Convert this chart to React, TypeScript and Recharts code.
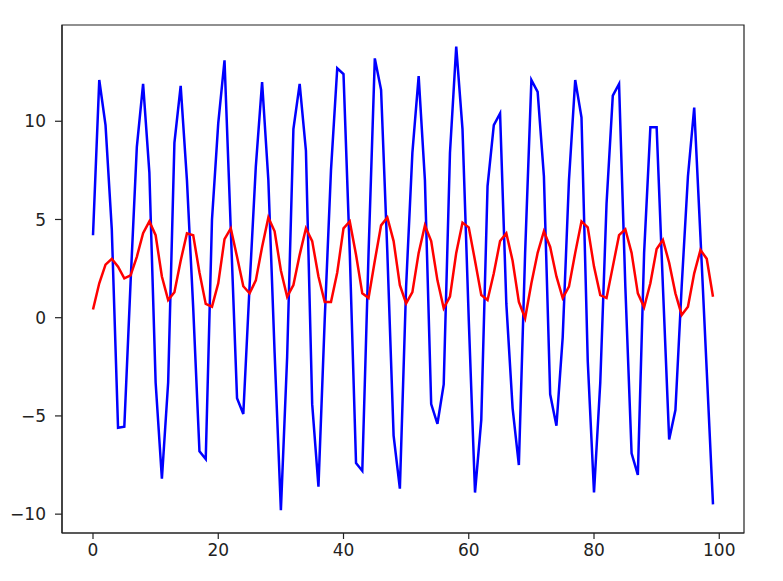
import { LineChart, Line, XAxis, YAxis, ReferenceArea } from 'recharts'

// values, one per step 0..99
const blueValues = [
  4.2, 12.1, 9.8, 4.5, -5.6, -5.55, 1.8, 8.7, 11.9, 7.4,
  -3.3, -8.2, -3.3, 8.9, 11.8, 7.0, 0.5, -6.8, -7.2, 5.0,
  9.9, 13.1, 4.5, -4.1, -4.9, 1.6, 7.7, 12.0, 7.0, -1.8,
  -9.8, -2.0, 9.6, 11.9, 8.5, -4.4, -8.6, -0.1, 7.5, 12.7,
  12.4, 3.3, -7.4, -7.8, 3.3, 13.2, 11.6, 3.3, -6.0, -8.7,
  1.6, 8.4, 12.3, 7.0, -4.4, -5.4, -3.4, 8.4, 13.8, 9.6,
  -0.1, -8.9, -5.2, 6.7, 9.8, 10.4, 0.7, -4.6, -7.5, 3.3,
  12.1, 11.5, 7.2, -3.9, -5.5, -1.0, 7.0, 12.1, 10.2, -2.2,
  -8.9, -3.3, 5.8, 11.3, 11.9, 1.6, -6.9, -8.0, 3.3, 9.7,
  9.7, 1.6, -6.2, -4.7, 1.6, 7.2, 10.7, 4.1, -2.7, -9.5,
]

const redValues = [
  0.42, 1.75, 2.7, 3.0, 2.6, 2.0, 2.15, 3.1, 4.3, 4.9,
  4.2, 2.1, 0.9, 1.3, 2.9, 4.3, 4.2, 2.3, 0.7, 0.56,
  1.75, 4.0, 4.55, 3.1, 1.6, 1.24, 1.9, 3.6, 5.1, 4.4,
  2.4, 1.07, 1.66, 3.2, 4.55, 3.9, 2.1, 0.8, 0.8, 2.3,
  4.55, 4.9, 3.2, 1.24, 1.0, 2.9, 4.7, 5.1, 3.9, 1.66,
  0.73, 1.3, 3.3, 4.7, 3.9, 1.9, 0.48, 1.07, 3.3, 4.84,
  4.6, 2.9, 1.15, 0.9, 2.26, 3.9, 4.3, 2.9, 0.8, -0.03,
  1.75, 3.3, 4.4, 3.6, 2.1, 1.0, 1.58, 3.3, 4.9, 4.6,
  2.6, 1.15, 1.0, 2.6, 4.2, 4.5, 3.3, 1.24, 0.53, 1.75,
  3.5, 3.96, 2.8, 1.24, 0.14, 0.56, 2.26, 3.45, 3.0, 1.07,
]

const xTicks = [0, 20, 40, 60, 80, 100]
const yTicks = [-10, -5, 0, 5, 10]

const X_DOMAIN: [number, number] = [-4.95, 103.95]
const Y_DOMAIN: [number, number] = [-10.96, 14.9]

const data = blueValues.map((b, i) => ({ x: i, blue: b, red: redValues[i] }))

const tickStyle = { fill: '#222', fontSize: 17, fontFamily: 'DejaVu Sans' }

export default function App() {
  return (
    <div style={{ position: 'absolute', left: 0, top: 0, background: '#fff' }}>
      <LineChart
        width={783}
        height={581}
        data={data}
        margin={{ top: 25, right: 39, left: 0, bottom: 0 }}
      >
        <XAxis
          dataKey="x"
          type="number"
          domain={X_DOMAIN}
          ticks={xTicks}
          allowDataOverflow
          height={48}
          tickSize={6}
          tickMargin={5}
          tick={tickStyle}
          axisLine={{ stroke: '#222', strokeWidth: 1.2 }}
          tickLine={{ stroke: '#222', strokeWidth: 1.2 }}
        />
        <YAxis
          type="number"
          domain={Y_DOMAIN}
          ticks={yTicks}
          allowDataOverflow
          width={62}
          tickSize={7}
          tickMargin={9}
          tick={tickStyle}
          tickFormatter={(v: number) => (v < 0 ? `\u2212${Math.abs(v)}` : `${v}`)}
          axisLine={{ stroke: '#222', strokeWidth: 1.2 }}
          tickLine={{ stroke: '#222', strokeWidth: 1.2 }}
        />
        <ReferenceArea
          x1={X_DOMAIN[0]}
          x2={X_DOMAIN[1]}
          y1={Y_DOMAIN[0]}
          y2={Y_DOMAIN[1]}
          fill="none"
          stroke="#222"
          strokeWidth={1.2}
        />
        <Line
          type="linear"
          dataKey="blue"
          stroke="#0000ff"
          strokeWidth={2.5}
          dot={false}
          isAnimationActive={false}
        />
        <Line
          type="linear"
          dataKey="red"
          stroke="#ff0000"
          strokeWidth={2.5}
          dot={false}
          isAnimationActive={false}
        />
      </LineChart>
    </div>
  )
}
